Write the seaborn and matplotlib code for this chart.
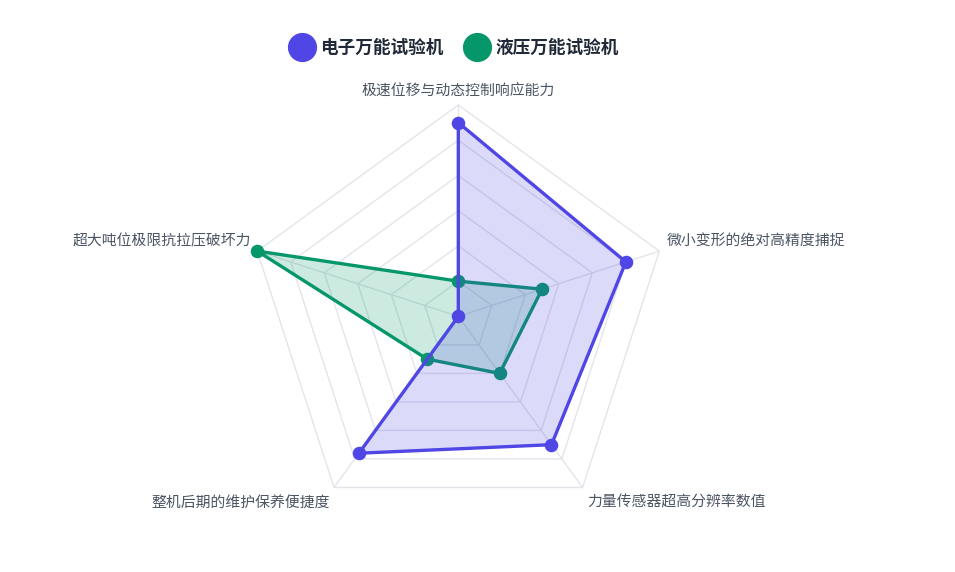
import numpy as np
import pandas as pd
import seaborn as sns
import matplotlib
matplotlib.use("Agg")
import matplotlib.pyplot as plt
from matplotlib.lines import Line2D

sns.set_theme(style="white")
plt.rcParams['font.family'] = ['Noto Sans CJK SC', 'DejaVu Sans']

categories = ["极速位移与动态控制响应能力", "微小变形的绝对高精度捕捉", "力量传感器超高分辨率数值",
              "整机后期的维护保养便捷度", "超大吨位极限抗拉压破坏力"]
series_names = ["电子万能试验机", "液压万能试验机"]
electronic = [95, 90, 85, 88, 40]
hydraulic = [50, 65, 60, 55, 100]
r_min, r_max, r_step = 40, 100, 10

colors = {"电子万能试验机": "#4F46E5", "液压万能试验机": "#059669"}

W, H = 955, 572
fig = plt.figure(figsize=(W / 100, H / 100), dpi=100)
cx, cy, R = 458.3, 316.4, 211.4
ax = fig.add_axes([(cx - R) / W, (H - cy - R) / H, 2 * R / W, 2 * R / H], projection="polar")
ax.set_theta_offset(np.pi / 2)
ax.set_theta_direction(-1)
ax.set_ylim(r_min, r_max)
ax.grid(False)
ax.spines["polar"].set_visible(False)
ax.set_xticks([])
ax.set_yticks([])
ax.patch.set_alpha(0)

n = len(categories)
theta = np.arange(n) * 2 * np.pi / n
theta_c = np.append(theta, theta[0])

grid_col = "#e3e5eb"
for lvl in np.arange(r_min + r_step, r_max + 0.1, r_step):
    ax.plot(theta_c, [lvl] * (n + 1), color=grid_col, lw=1, zorder=1, clip_on=False)
for t in theta:
    ax.plot([t, t], [r_min, r_max], color=grid_col, lw=1, zorder=1, clip_on=False)

df = pd.DataFrame({
    "theta": np.concatenate([theta_c, theta_c]),
    "value": np.concatenate([hydraulic + [hydraulic[0]], electronic + [electronic[0]]]),
    "series": [series_names[1]] * (n + 1) + [series_names[0]] * (n + 1),
})

z = 2
for name in [series_names[1], series_names[0]]:
    d = df[df.series == name]
    ax.fill(d.theta.values, d.value.values, color=colors[name], alpha=0.2, lw=0, zorder=z, clip_on=False)
    sns.lineplot(data=d, x="theta", y="value", sort=False, estimator=None, color=colors[name],
                 lw=2.4, ax=ax, zorder=z + 1, legend=False, clip_on=False)
    sns.scatterplot(data=d.iloc[:-1], x="theta", y="value", color=colors[name], s=95,
                    edgecolor=colors[name], linewidth=0, ax=ax, zorder=z + 2, legend=False,
                    clip_on=False)
    z += 3

ax.set_xlabel("")
ax.set_ylabel("")
ax.set_xticks([])
ax.set_yticks([])
ax.set_ylim(r_min, r_max)

label_cfg = [((0, 14), "center"), ((7, 10), "left"), ((5, -15), "left"),
             ((-4, -15), "right"), ((-6, 10), "right")]
for t, lab, (off, ha) in zip(theta, categories, label_cfg):
    ax.annotate(lab, xy=(t, r_max), xytext=off, textcoords="offset pixels",
                ha=ha, va="center", fontsize=10.7, color="#4b5563", annotation_clip=False)

handles = [Line2D([], [], marker="o", linestyle="", markersize=20, color=colors[s]) for s in series_names]
leg = fig.legend(handles, series_names, loc="center", bbox_to_anchor=(456 / W, 1 - 48.3 / H),
                 ncol=2, frameon=False, handlelength=1.0, handletextpad=0.55, columnspacing=1.4,
                 prop={"weight": "bold", "size": 12.7})
for txt in leg.get_texts():
    txt.set_color("#1f2937")

fig.savefig("out.png", dpi=100)
